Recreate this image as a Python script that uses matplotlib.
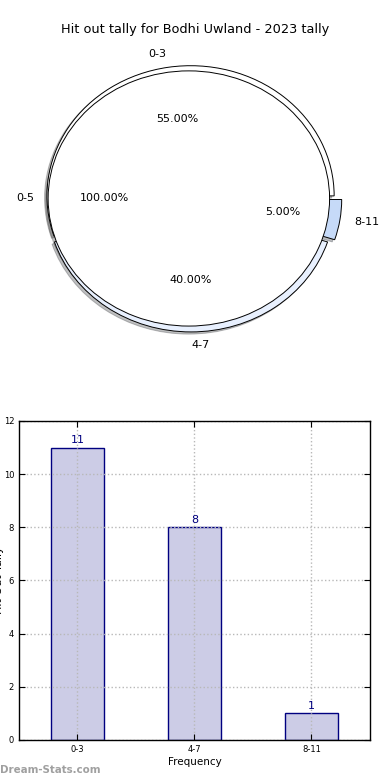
import numpy as np
import matplotlib
matplotlib.use('Agg')
import matplotlib.pyplot as plt

# --- data ---
title = "Hit out tally for Bodhi Uwland - 2023 tally"
outer_labels = ['0-3', '4-7', '8-11']
outer_values = [11, 8, 1]
inner_labels = ['0-5']
inner_values = [20]
bar_labels = ['0-3', '4-7', '8-11']
bar_values = [11, 8, 1]
y_ticks = [0, 2, 4, 6, 8, 10, 12]

plt.rcParams['font.family'] = ['DejaVu Sans']

fig = plt.figure(figsize=(3.9, 7.8), dpi=100, facecolor='white')

# --- top: nested pie ---
ax1 = fig.add_axes([0.0295, 0.5369, 0.9205, 0.4173])
outer_colors = ['#ffffff', '#e8f0fe', '#c6daf8']
shadow_style = {'ox': -0.012, 'oy': -0.012, 'alpha': 0.35}
ax1.pie(outer_values, labels=outer_labels, colors=outer_colors,
        explode=[0.02, 0.025, 0.05], autopct='%.2f%%', shadow=shadow_style,
        startangle=0, radius=1.0,
        wedgeprops={'edgecolor': 'black', 'linewidth': 0.7},
        textprops={'fontsize': 8})
ax1.pie(inner_values, labels=inner_labels, colors=['#ffffff'],
        explode=[0.015], autopct='%.2f%%', shadow=shadow_style,
        startangle=0, radius=0.98,
        wedgeprops={'edgecolor': 'black', 'linewidth': 0.7},
        textprops={'fontsize': 8})
ax1.set_aspect('auto')
ax1.set_xlim(-1.25, 1.25)
ax1.set_ylim(-1.25, 1.25)

fig.text(0.5, 1 - 30 / 780, title, ha='center', va='center', fontsize=9.3)

# --- bottom: bar chart ---
ax2 = fig.add_axes([0.0487, 0.0513, 0.9, 0.409])
x = np.arange(len(bar_labels))
ax2.bar(x, bar_values, width=0.45, color='#cccce6', edgecolor='#000080',
        linewidth=1.0)
for xi, v in zip(x, bar_values):
    ax2.text(xi, v + 0.08, str(v), ha='center', va='bottom',
             color='#000080', fontsize=8)

ax2.set_xlim(-0.5, len(bar_labels) - 0.5)
ax2.set_ylim(0, 12)
ax2.set_xticks(x)
ax2.set_xticklabels(bar_labels)
ax2.set_yticks(y_ticks)
ax2.tick_params(direction='in', top=True, right=True, labelsize=6, length=4)
ax2.grid(True, linestyle=':', color='#b8b8b8', linewidth=1.0)
ax2.set_axisbelow(False)
ax2.set_xlabel('Frequency', fontsize=7.5, labelpad=2)
ax2.set_ylabel('Hit Out Tally', fontsize=8)
ax2.yaxis.set_label_coords(-0.043, 0.5)
for s in ax2.spines.values():
    s.set_linewidth(1.0)
    s.set_zorder(5)

fig.text(0.0, 1 - 770 / 780, 'Dream-Stats.com', ha='left', va='center',
         fontsize=7.4, color='#a0a0a0', fontweight='bold')

fig.savefig('out.png', dpi=100, facecolor=fig.get_facecolor())
